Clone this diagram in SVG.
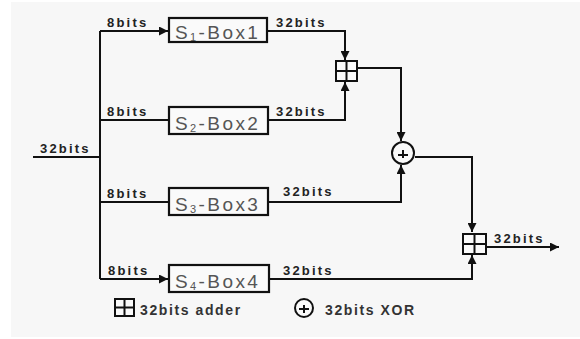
<svg xmlns="http://www.w3.org/2000/svg" width="580" height="339" viewBox="0 0 580 339">
<style>
.ln{fill:none;stroke:#111;stroke-width:2}
.box{fill:#fafafa;stroke:#111;stroke-width:2.2}
.lbl{font-family:"Liberation Sans",Arial,sans-serif;font-size:13px;font-weight:bold;fill:#222;letter-spacing:2.2px}
.bx{font-family:"Liberation Sans",Arial,sans-serif;font-size:19px;fill:#555;letter-spacing:2.4px}
.sub{font-size:11px}
.leg{font-family:"Liberation Sans",Arial,sans-serif;font-size:14px;font-weight:bold;fill:#333;letter-spacing:1.6px}
.sym{fill:#fafafa;stroke:#111;stroke-width:2}
</style>
<defs>
<marker id="ah" viewBox="0 0 10 10" refX="10" refY="5" markerWidth="4.5" markerHeight="4.5" orient="auto" markerUnits="strokeWidth">
<path d="M0,0 L10,5 L0,10 z" fill="#111"/>
</marker>
</defs>
<rect x="0" y="0" width="580" height="339" fill="#ffffff"/>
<rect x="11" y="2" width="569" height="335" fill="#f7f7f7"/>

<g id="connectors">
<path class="ln" d="M33,157 H100"/>
<path class="ln" d="M100,31 V279"/>
<path class="ln" d="M100,31 H168" marker-end="url(#ah)"/>
<path class="ln" d="M100,120 H169"/>
<path class="ln" d="M100,202 H169"/>
<path class="ln" d="M100,279 H168" marker-end="url(#ah)"/>
<path class="ln" d="M268,31 H345 V60" marker-end="url(#ah)"/>
<path class="ln" d="M268,120 H345 V82" marker-end="url(#ah)"/>
<path class="ln" d="M358,68 H401 V141" marker-end="url(#ah)"/>
<path class="ln" d="M268,202 H401 V165" marker-end="url(#ah)"/>
<path class="ln" d="M415,157 H472 V232" marker-end="url(#ah)"/>
<path class="ln" d="M269,279 H472 V255" marker-end="url(#ah)"/>
<path class="ln" d="M486,247 H559" marker-end="url(#ah)"/>
</g>

<g id="labels">
<text class="lbl" x="40" y="153">32bits</text>
<text class="lbl" x="107" y="27">8bits</text>
<text class="lbl" x="107" y="116">8bits</text>
<text class="lbl" x="107" y="198">8bits</text>
<text class="lbl" x="108" y="275">8bits</text>
<text class="lbl" x="276" y="27">32bits</text>
<text class="lbl" x="276" y="116">32bits</text>
<text class="lbl" x="283" y="196">32bits</text>
<text class="lbl" x="283" y="275">32bits</text>
<text class="lbl" x="494" y="243">32bits</text>
</g>

<g id="s1box">
<rect class="box" x="169" y="18" width="98" height="24"/>
<text class="bx" x="175" y="39">S<tspan class="sub" dy="2">1</tspan><tspan dy="-2">-Box1</tspan></text>
</g>
<g id="s2box">
<rect class="box" x="169" y="107" width="99" height="27"/>
<text class="bx" x="175" y="130">S<tspan class="sub" dy="2">2</tspan><tspan dy="-2">-Box2</tspan></text>
</g>
<g id="s3box">
<rect class="box" x="169" y="188" width="99" height="27"/>
<text class="bx" x="175" y="211">S<tspan class="sub" dy="2">3</tspan><tspan dy="-2">-Box3</tspan></text>
</g>
<g id="s4box">
<rect class="box" x="169" y="265" width="100" height="27"/>
<text class="bx" x="175" y="288">S<tspan class="sub" dy="2">4</tspan><tspan dy="-2">-Box4</tspan></text>
</g>

<g id="adder1">
<rect class="sym" x="336" y="61" width="21" height="20"/>
<path class="ln" d="M336,71 H357 M346.5,61 V81"/>
</g>
<g id="xor1">
<circle class="sym" cx="403" cy="153" r="11"/>
<path class="ln" stroke-width="1.5" d="M398,155 H408 M403,150 V158"/>
</g>
<g id="adder2">
<rect class="sym" x="463" y="234" width="23" height="20"/>
<path class="ln" d="M463,244 H486 M474.5,234 V254"/>
</g>

<g id="legend">
<rect class="sym" x="115" y="299" width="19" height="17"/>
<path class="ln" d="M115,307.5 H134 M124.5,299 V316"/>
<text class="leg" x="140" y="315">32bits adder</text>
<circle class="sym" cx="304" cy="308" r="9"/>
<path class="ln" stroke-width="1.5" d="M299,309 H309 M304,305 V313"/>
<text class="leg" x="325" y="315">32bits XOR</text>
</g>
</svg>
